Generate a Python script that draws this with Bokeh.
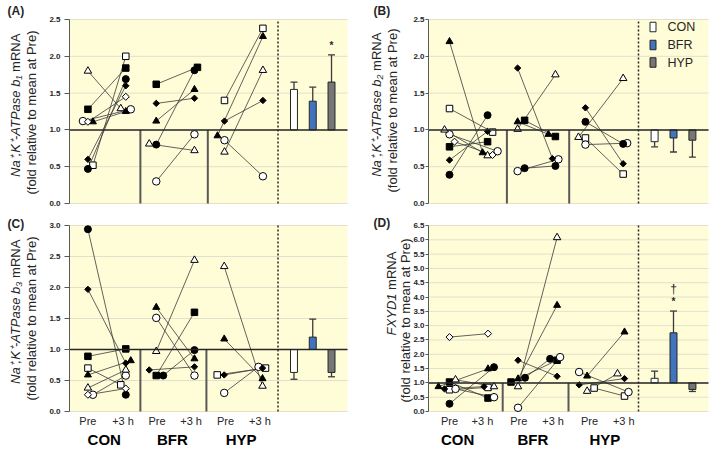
import math
import numpy as np
from bokeh.plotting import figure
from bokeh.layouts import column, row
from bokeh.models import Label, NumeralTickFormatter, FixedTicker, Range1d
from bokeh.embed import file_html
from bokeh.resources import INLINE

# ---------------------------------------------------------------- data
SUBJECTS = ["osq", "fsq", "oci", "fci", "otr", "ftr", "fdi", "odi"]
GROUPS = ["CON", "BFR", "HYP"]
TIMES = ["Pre", "+3 h"]
N = None

# (A) Na+,K+-ATPase b1
A_CON_PRE = [0.52, 1.28, 1.12, 0.47, 1.80, 1.11, 0.60, 1.11]
A_CON_POST = [2.00, 1.84, 1.28, 1.69, 1.29, 1.25, 1.60, 1.45]
A_BFR_PRE = [N, 1.62, 0.30, 0.80, 0.81, 1.12, 1.36, N]
A_BFR_POST = [N, 1.85, 0.94, 1.81, 0.72, 1.55, 1.43, N]
A_HYP_PRE = [1.40, N, 0.86, N, 0.70, 0.92, 1.12, N]
A_HYP_POST = [2.38, N, 0.37, N, 1.81, 2.27, 1.40, N]
A_MEAN = [1.55, 1.39, 1.65]
A_SEM = [0.10, 0.19, 0.37]
A_SIG = ["", "", "*"]

# (B) Na+,K+-ATPase b2
B_CON_PRE = [1.29, 0.77, 0.94, 0.39, 1.00, 2.20, 0.59, 0.84]
B_CON_POST = [0.97, 0.84, 0.71, 1.20, 0.65, 0.69, 0.98, 0.66]
B_BFR_PRE = [N, 1.13, 0.44, 0.48, 1.01, 1.11, 1.84, N]
B_BFR_POST = [N, 0.91, 0.60, 0.51, 1.75, 0.94, 0.61, N]
B_HYP_PRE = [0.89, N, 0.80, 1.11, 0.90, N, 1.30, N]
B_HYP_POST = [0.40, N, 0.82, 0.81, 1.70, N, 0.54, N]
B_MEAN = [0.84, 0.89, 0.86]
B_SEM = [0.07, 0.19, 0.23]
B_SIG = ["", "", ""]

# (C) Na+,K+-ATPase b3
C_CON_PRE = [0.70, 0.89, 0.27, 2.94, 0.38, 0.59, 1.97, 0.27]
C_CON_POST = [0.43, 1.01, 0.58, 0.27, 0.67, 0.82, 0.78, 0.37]
C_BFR_PRE = [N, 0.58, 1.51, 0.58, 0.97, 1.68, 0.67, N]
C_BFR_POST = [N, 1.60, 0.58, 0.99, 2.44, 0.85, 0.72, N]
C_HYP_PRE = [0.59, N, 0.30, N, 2.34, 1.17, 0.59, N]
C_HYP_POST = [0.70, N, 0.72, N, 0.41, 0.53, 0.70, N]
C_MEAN = [0.63, 1.20, 0.63]
C_SEM = [0.11, 0.29, 0.07]
C_SIG = ["", "", ""]

# (D) FXYD1
D_CON_PRE = [0.76, 1.03, 0.79, 0.27, 1.11, 0.87, 0.79, 2.60]
D_CON_POST = [0.84, 0.47, 0.50, 1.55, 0.87, 1.49, 0.87, 2.72]
D_BFR_PRE = [N, 1.03, 0.13, 1.18, 0.87, 1.14, 1.79, N]
D_BFR_POST = [N, 1.79, 1.90, 1.84, 6.08, 3.71, 1.23, N]
D_HYP_PRE = [0.82, N, 1.38, N, 0.71, 1.24, 0.93, N]
D_HYP_POST = [0.54, N, 0.68, N, 1.32, 2.78, 1.15, N]
D_MEAN = [1.16, 2.75, 0.77]
D_SEM = [0.25, 0.76, 0.07]
D_SIG = ["", "*", ""]
D_SIG2 = ["", "\u2020", ""]

# ---------------------------------------------------------------- layout / style
BG = "#FFFDD8"
GRID = "#E2E0CA"
DARK = "#262626"
SEP = "#595959"
LINE_C = "#3A3A3A"
FONT = "Liberation Sans"
BAR_FILL = ["#FFFFFF", "#4174BC", "#767676"]
BAR_X = [3.23, 3.50, 3.77]

# picture-pixel geometry: plot area (data region) and canvases
COL_FRAME = {0: (69, 278), 1: (428, 280)}
ROW_FRAME = {0: (19, 184), 1: (225, 186)}
CANVAS_X = {0: (0, 368), 1: (368, 709)}
CANVAS_Y = {0: (0, 213), 1: (213, 452)}
TICK_OUT = {0: 5, 1: 3}
TICK_STANDOFF = {0: 4, 1: 1}

MARK = {
    "osq": dict(marker="square", fill_color="white", size=6.5, angle=0.0),
    "fsq": dict(marker="square", fill_color="black", size=6.5, angle=0.0),
    "oci": dict(marker="circle", fill_color="white", size=7.5, angle=0.0),
    "fci": dict(marker="circle", fill_color="black", size=7, angle=0.0),
    "otr": dict(marker="triangle", fill_color="white", size=7.5, angle=0.0),
    "ftr": dict(marker="triangle", fill_color="black", size=7, angle=0.0),
    "fdi": dict(marker="square", fill_color="black", size=4.5, angle=math.pi / 4),
    "odi": dict(marker="square", fill_color="white", size=5, angle=math.pi / 4),
}

Z8 = [0] * 8


def dodge(**kw):
    return [kw.get(s, 0) for s in SUBJECTS]


PANELS = [
    dict(key="A", col=0, rw=0, ymax=2.5,
         pre=[A_CON_PRE, A_BFR_PRE, A_HYP_PRE], post=[A_CON_POST, A_BFR_POST, A_HYP_POST],
         pre_base=[0.265, 1.248, 2.23], post_base=[0.81, 1.798, 2.783],
         dpre=[dodge(osq=5, oci=-5, ftr=5), dodge(otr=-7), dodge(ftr=-7)],
         dpost=[dodge(oci=5, otr=-5), dodge(fsq=3), Z8],
         seps=[1.02, 1.99], mean=A_MEAN, sem=A_SEM, sig=A_SIG, sig2=None,
         ylab1=("Na\u207A,K\u207A-ATPase b\u2081", "\u00A0mRNA"),
         geom=dict(l1x=15, l2x=30.5, split=75, l2y=112), letter=(7, 3)),
    dict(key="B", col=1, rw=0, ymax=2.5,
         pre=[B_CON_PRE, B_BFR_PRE, B_HYP_PRE], post=[B_CON_POST, B_BFR_POST, B_HYP_POST],
         pre_base=[0.30, 1.273, 2.242], post_base=[0.844, 1.813, 2.781],
         dpre=[dodge(otr=-5, odi=5), dodge(fsq=7, fci=7), dodge(otr=-7)],
         dpost=[dodge(osq=5, oci=10, odi=5, ftr=-5), dodge(ftr=-7, fdi=-3, oci=3), dodge(oci=4)],
         seps=[1.12, 2.01], mean=B_MEAN, sem=B_SEM, sig=B_SIG, sig2=None,
         ylab1=("Na\u207A,K\u207A-ATPase b\u2082", "\u00A0mRNA"),
         geom=dict(l1x=376, l2x=391.5, split=74, l2y=110), letter=(373, 3), legend=True),
    dict(key="C", col=0, rw=1, ymax=3.0,
         pre=[C_CON_PRE, C_BFR_PRE, C_HYP_PRE], post=[C_CON_POST, C_BFR_POST, C_HYP_POST],
         pre_base=[0.265, 1.248, 2.226], post_base=[0.81, 1.798, 2.777],
         dpre=[dodge(oci=5), dodge(fci=7, fdi=-7), dodge(osq=-7)],
         dpost=[dodge(osq=-5, ftr=5), Z8, dodge(oci=-4, osq=3)],
         seps=[1.02, 1.97], mean=C_MEAN, sem=C_SEM, sig=C_SIG, sig2=None,
         ylab1=("Na\u207A,K\u207A-ATPase b\u2083", "\u00A0mRNA"),
         geom=dict(l1x=14.5, l2x=30.5, split=281, l2y=318), letter=(7, 216),
         xt_pre=[0.265, 1.26, 2.245], xt_post=[0.77, 1.75, 2.74], xg=[0.50, 1.48, 2.47]),
    dict(key="D", col=1, rw=1, ymax=6.5,
         pre=[D_CON_PRE, D_BFR_PRE, D_HYP_PRE], post=[D_CON_POST, D_BFR_POST, D_HYP_POST],
         pre_base=[0.30, 1.279, 2.266], post_base=[0.85, 1.837, 2.80],
         dpre=[dodge(ftr=-11, fdi=-5, oci=6, otr=6), dodge(fsq=-7, fci=7), dodge(oci=-8, fdi=-8, osq=7)],
         dpost=[dodge(fci=6, otr=6, oci=6, fdi=-4), dodge(fci=-7, oci=3), dodge(oci=4, otr=-7)],
         seps=[1.06, 2.00], mean=D_MEAN, sem=D_SEM, sig=D_SIG, sig2=D_SIG2,
         ylab1=("FXYD1", "\u00A0mRNA"),
         geom=dict(l1x=391, l2x=404.5, split=293, l2y=320), letter=(373, 215),
         xt_pre=[0.30, 1.29, 2.30], xt_post=[0.77, 1.78, 2.79], xg=[0.415, 1.49, 2.52]),
]

LEGEND_ROWS_PX = [26.5, 44.5, 62.0]   # picture y of legend rows (panel B)
LEGEND_BOX_PX = 652.5
LEGEND_TEXT_PX = 667


def lab(p, x, y, text, size, style="normal", align="center", baseline="middle", angle=0.0, color=DARK):
    p.add_layout(Label(x=x, y=y, text=text, text_font=FONT, text_font_size=size,
                       text_font_style=style, text_align=align, text_baseline=baseline,
                       angle=angle, text_color=color))


def make_panel(cfg):
    col, rw, ymax = cfg["col"], cfg["rw"], cfg["ymax"]
    L, FW = COL_FRAME[col]
    T, FH = ROW_FRAME[rw]
    Bm = T + FH
    ppx = FW / 4.0
    ppy = FH / ymax

    def X(sx):
        return (sx - L) / ppx

    def Y(sy):
        return (Bm - sy) / ppy

    cx0, cx1 = CANVAS_X[col]
    cy0, cy1 = CANVAS_Y[rw]
    p = figure(width=cx1 - cx0, height=cy1 - cy0,
               x_range=Range1d(X(cx0), X(cx1)), y_range=Range1d(Y(cy1), Y(cy0)),
               output_backend="svg", toolbar_location=None, title=None, min_border=0)
    p.background_fill_color = "white"
    p.border_fill_color = "white"
    p.outline_line_color = None
    p.xaxis.visible = False
    p.xgrid.visible = False
    p.ygrid.visible = False

    ticks = [round(v, 1) for v in np.arange(0, ymax + 0.01, 0.5)]
    ax = p.yaxis[0]
    ax.fixed_location = 0
    ax.bounds = (0, ymax)
    ax.ticker = FixedTicker(ticks=ticks)
    ax.formatter = NumeralTickFormatter(format="0.0")
    ax.major_label_text_font = FONT
    ax.major_label_text_font_size = "8px"
    ax.major_label_text_font_style = "bold"
    ax.major_label_text_color = DARK
    ax.major_tick_out = TICK_OUT[col]
    ax.major_tick_in = 0
    ax.minor_tick_line_color = None
    ax.major_label_standoff = TICK_STANDOFF[col]
    ax.axis_line_color = SEP
    ax.axis_line_width = 1
    ax.major_tick_line_color = SEP

    # plot area background and horizontal grid lines
    p.quad(left=[0], right=[4], bottom=[0], top=[ymax], fill_color=BG, line_color=None)
    p.segment(x0=[0] * len(ticks), x1=[4] * len(ticks), y0=ticks, y1=ticks,
              line_color=GRID, line_width=1)

    # group separators and the dotted divider
    p.segment(x0=cfg["seps"], y0=[0] * 2, x1=cfg["seps"], y1=[1] * 2,
              line_color=SEP, line_width=2)
    p.segment(x0=[3.0], y0=[0], x1=[3.0], y1=[ymax], line_color=DARK,
              line_width=1.5, line_dash="2 2")

    # individual responses
    xs, ys = [], []
    pts = {s: ([], []) for s in SUBJECTS}
    for g in range(3):
        for i, s in enumerate(SUBJECTS):
            a, b = cfg["pre"][g][i], cfg["post"][g][i]
            xa = cfg["pre_base"][g] + cfg["dpre"][g][i] / ppx
            xb = cfg["post_base"][g] + cfg["dpost"][g][i] / ppx
            if a is not None and b is not None:
                xs.append([xa, xb])
                ys.append([a, b])
            if a is not None:
                pts[s][0].append(xa)
                pts[s][1].append(a)
            if b is not None:
                pts[s][0].append(xb)
                pts[s][1].append(b)
    p.multi_line(xs, ys, line_color=LINE_C, line_width=0.8)
    for s in SUBJECTS:
        if not pts[s][0]:
            continue
        m = MARK[s]
        p.scatter(pts[s][0], pts[s][1], marker=m["marker"], size=m["size"], angle=m["angle"],
                  fill_color=m["fill_color"], line_color="black", line_width=1)

    # mean bars (drawn from 1.0) with error bars away from 1.0
    ends = []
    for g in range(3):
        sign = 1 if cfg["mean"][g] >= 1 else -1
        ends.append(cfg["mean"][g] + sign * cfg["sem"][g])
    p.segment(x0=BAR_X, y0=cfg["mean"], x1=BAR_X, y1=ends, line_color=LINE_C, line_width=1.3)
    p.scatter(BAR_X, ends, marker="dash", size=7, line_color=LINE_C, line_width=1.3)
    p.vbar(x=BAR_X, bottom=1.0, top=cfg["mean"], width=0.1,
           fill_color=BAR_FILL, line_color=DARK, line_width=1)

    # baseline at 1.0
    p.segment(x0=[0], y0=[1.0], x1=[4], y1=[1.0], line_color=DARK, line_width=1.5)

    for g in range(3):
        if cfg["sig"][g]:
            lab(p, BAR_X[g], ends[g] + 9.5 / ppy, cfg["sig"][g], "10px", "bold")
        if cfg["sig2"] and cfg["sig2"][g]:
            lab(p, BAR_X[g], ends[g] + 22.5 / ppy, cfg["sig2"][g], "12px")

    # panel letter
    lx, ly0 = cfg["letter"]
    lab(p, X(lx), Y(ly0), "(%s)" % cfg["key"], "12px", "bold", align="left", baseline="top")

    # y-axis title
    gm = cfg["geom"]
    it, rest = cfg["ylab1"]
    lab(p, X(gm["l1x"]), Y(gm["split"]), it, "13px", "italic", align="right", angle=math.pi / 2)
    lab(p, X(gm["l1x"]), Y(gm["split"]), rest, "13px", "normal", align="left", angle=math.pi / 2)
    lab(p, X(gm["l2x"]), Y(gm["l2y"]), "(fold relative to mean at Pre)", "13px",
        align="center", angle=math.pi / 2)

    # category labels for the bottom row
    if "xg" in cfg:
        for g in range(3):
            lab(p, cfg["xt_pre"][g], Y(420), TIMES[0], "11px")
            lab(p, cfg["xt_post"][g], Y(420), TIMES[1], "11px")
            lab(p, cfg["xg"][g], Y(438.5), GROUPS[g], "15px", "bold", color="black")

    # legend (panel B)
    if cfg.get("legend"):
        lyy = [Y(v) for v in LEGEND_ROWS_PX]
        p.rect(x=[X(LEGEND_BOX_PX)] * 3, y=lyy, width=6, height=9.5,
               width_units="screen", height_units="screen",
               fill_color=BAR_FILL, line_color=DARK, line_width=1)
        for g in range(3):
            lab(p, X(LEGEND_TEXT_PX), lyy[g], GROUPS[g], "12.5px", align="left")
    return p


figs = [make_panel(c) for c in PANELS]
layout = column(row(figs[0], figs[1]), row(figs[2], figs[3]))
open("out.html", "w").write(file_html(layout, INLINE))
